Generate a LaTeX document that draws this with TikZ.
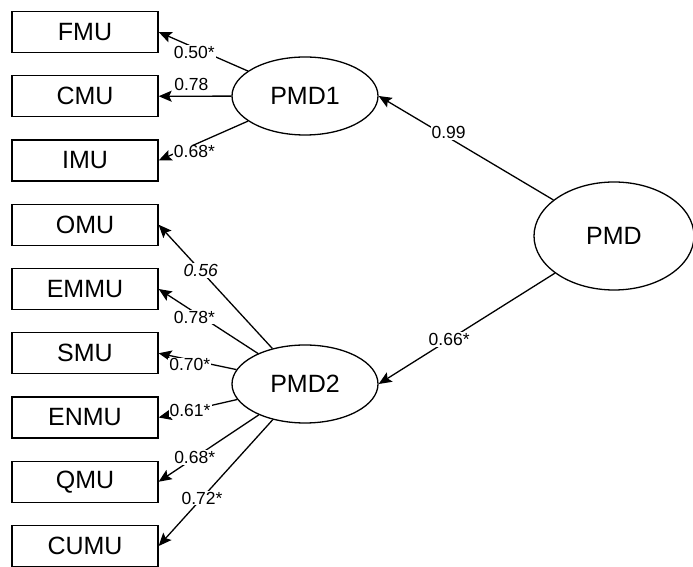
\documentclass[tikz,border=0pt]{standalone}
\usepackage{fontspec}
\setmainfont{Liberation Sans}
\usetikzlibrary{arrows.meta,positioning,shapes.geometric}

\begin{document}
\begin{tikzpicture}[->, >={Stealth[length=13pt,width=11pt,inset=2.5pt]}, x=1pt, y=1pt, line width=1.3pt, node distance=64.25pt]
    \tikzstyle{obs}=[draw=black,fill=white,rectangle,minimum width=146pt,minimum height=41pt,inner sep=0pt,font=\fontsize{25}{30}\selectfont]
    \tikzstyle{lat}=[draw=black,fill=white,ellipse,minimum width=146pt,minimum height=78pt,inner sep=0pt,font=\fontsize{25}{30}\selectfont]
    \tikzstyle{lbl}=[fill=white,inner sep=1pt,font=\fontsize{17.5}{20}\selectfont]
    \useasboundingbox (0,0) rectangle (693,567);
    \node[obs]    (FMU)   at (85,535)      {FMU};
    \node[obs]    (CMU)[below of=FMU]      {CMU};
    \node[obs]    (IMU)[below of=CMU]      {IMU};
    \node[obs]    (OMU)[below of=IMU]      {OMU};
    \node[obs]    (EMMU)[below of=OMU]     {EMMU};
    \node[obs]    (SMU)[below of=EMMU]     {SMU};
    \node[obs]    (ENMU)[below of=SMU]     {ENMU};
    \node[obs]    (QMU)[below of=ENMU]     {QMU};
    \node[obs]    (CUMU)[below of=QMU]     {CUMU};
    \node[lat]    (PMD1)  at (305,471)     {PMD1};
    \node[lat]    (PMD2)  at (305,183)     {PMD2};
    \node[lat,minimum width=160pt,minimum height=108pt] (PMD) at (614,331) {PMD};
    \path
    (PMD) edge node[lbl,pos=0.6,yshift=5pt]{0.99} (PMD1.east)
    edge node[lbl,pos=0.6]{0.66*} (PMD2.east)
    (PMD1) edge node[lbl,pos=0.6,yshift=-5pt]{0.50*} (FMU.east)
    edge node[lbl,pos=0.55,above=4pt]{0.78} (CMU.east)
    edge node[lbl,pos=0.6,yshift=-7pt]{0.68*} (IMU.east)
    (PMD2) edge node[lbl,pos=0.63,font=\fontsize{17.5}{20}\selectfont\itshape]{0.56} (OMU.east)
    edge node[lbl,pos=0.64,yshift=-5pt]{0.78*} (EMMU.east)
    edge node[lbl,pos=0.6,yshift=-5pt]{0.70*} (SMU.east)
    edge node[lbl,pos=0.6]{0.61*} (ENMU.east)
    edge node[lbl,pos=0.64]{0.68*} (QMU.east)
    edge node[lbl,pos=0.62]{0.72*} (CUMU.east);
\end{tikzpicture}
\end{document}
